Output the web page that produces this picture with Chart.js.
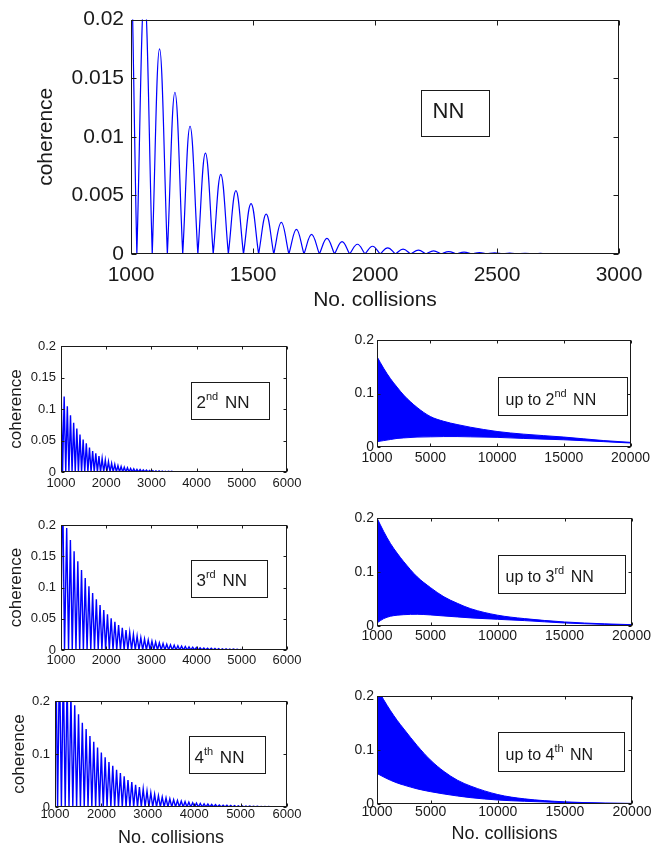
<!DOCTYPE html>
<html>
<head>
<meta charset="utf-8">
<script src="https://cdn.jsdelivr.net/npm/chart.js@4/dist/chart.umd.min.js"></script>
<style>
  body { margin: 0; background: #fff; }
  #fig { position: relative; width: 653px; height: 850px; }
  canvas { position: absolute; }
</style>
</head>
<body>
<div id="fig">
  <canvas id="nn" width="653" height="315" style="left:0;top:0"></canvas>
  <canvas id="l2" width="330" height="185" style="left:0;top:315px"></canvas>
  <canvas id="l3" width="330" height="175" style="left:0;top:500px"></canvas>
  <canvas id="l4" width="330" height="175" style="left:0;top:675px"></canvas>
  <canvas id="r2" width="323" height="185" style="left:330px;top:315px"></canvas>
  <canvas id="r3" width="323" height="175" style="left:330px;top:500px"></canvas>
  <canvas id="r4" width="323" height="175" style="left:330px;top:675px"></canvas>
</div>
<script>
// ---- data ----
// NN: zeros and hump maxima of |coherence|
const nnTroughs = [962, 1024, 1087, 1149, 1212, 1274, 1337, 1399, 1461, 1523, 1585, 1647, 1709, 1772, 1834, 1896, 1959, 2021, 2084, 2146, 2209, 2271, 2334, 2396, 2459, 2521, 2584, 2646, 2709, 2771, 2834, 2896, 2959, 3021];
const nnPeakX = [993, 1055, 1117, 1180, 1242, 1305, 1368, 1430, 1492, 1554, 1616, 1678, 1740, 1803, 1865, 1928, 1990, 2052, 2115, 2178, 2240, 2302, 2365, 2428, 2490, 2552, 2615, 2678, 2740, 2802, 2865, 2928, 2990];
const nnPeakY = [0.028, 0.0222, 0.0175, 0.0138, 0.0109, 0.0086, 0.0068, 0.0054, 0.0043, 0.0034, 0.0027, 0.0021, 0.00167, 0.00133, 0.00105, 0.00083, 0.00066, 0.00052, 0.00041, 0.00033, 0.00026, 0.0002, 0.00016, 0.00013, 0.0001, 0.00008, 0.00006, 0.00005, 0.00004, 0.00003, 0.00002, 0.00002, 0.00001];

// 2nd NN
const nn2Troughs = [965, 1035, 1105, 1175, 1245, 1315, 1385, 1455, 1525, 1595, 1665, 1735, 1805, 1875, 1945, 2015, 2085, 2155, 2225, 2295, 2365, 2435, 2505, 2575, 2645, 2715, 2785, 2855, 2925, 2995, 3065, 3135, 3205, 3275, 3345, 3415, 3485];
const nn2PeakX = [1000, 1070, 1140, 1210, 1280, 1350, 1420, 1490, 1560, 1630, 1700, 1770, 1840, 1910, 1980, 2050, 2120, 2190, 2260, 2330, 2400, 2470, 2540, 2610, 2680, 2750, 2820, 2890, 2960, 3030, 3100, 3170, 3240, 3310, 3380, 3450];
const nn2PeakY = [0.139, 0.120, 0.1045, 0.090, 0.078, 0.069, 0.0596, 0.0517, 0.0454, 0.039, 0.0332, 0.0296, 0.0253, 0.0216, 0.019, 0.0164, 0.0137, 0.012, 0.010, 0.0087, 0.0076, 0.0066, 0.0057, 0.005, 0.0043, 0.0038, 0.0033, 0.0029, 0.0025, 0.0022, 0.0019, 0.0017, 0.0015, 0.0013, 0.0011, 0.001];

// 3rd NN
const nn3Troughs = [1000, 1078, 1167, 1249, 1331, 1413, 1495, 1577, 1659, 1741, 1823, 1905, 1987, 2069, 2151, 2233, 2315, 2397, 2479, 2561, 2643, 2725, 2807, 2889, 2971, 3053, 3135, 3217, 3299, 3381, 3463, 3545, 3627, 3709, 3791, 3873, 3955, 4037, 4119, 4201, 4283, 4365, 4447, 4529, 4611, 4693, 4775, 4857, 4939, 5021];
const nn3PeakX = [1030, 1126, 1208, 1290, 1372, 1454, 1536, 1618, 1700, 1782, 1864, 1946, 2028, 2110, 2192, 2274, 2356, 2438, 2520, 2602, 2684, 2766, 2848, 2930, 3012, 3094, 3176, 3258, 3340, 3422, 3504, 3586, 3668, 3750, 3832, 3914, 3996, 4078, 4160, 4242, 4324, 4406, 4488, 4570, 4652, 4734, 4816, 4898, 4980];
const nn3PeakY = [0.30, 0.195, 0.176, 0.158, 0.142, 0.128, 0.115, 0.102, 0.091, 0.081, 0.072, 0.064, 0.057, 0.0507, 0.0453, 0.040, 0.0357, 0.032, 0.028, 0.025, 0.0224, 0.0197, 0.0176, 0.0158, 0.0142, 0.0128, 0.0115, 0.0104, 0.0093, 0.0084, 0.0076, 0.0068, 0.0061, 0.0055, 0.005, 0.0045, 0.004, 0.0036, 0.0033, 0.003, 0.0027, 0.0024, 0.0022, 0.002, 0.0018, 0.0016, 0.0014, 0.0012, 0.001];

// 4th NN
const nn4Troughs = [974, 1056, 1138, 1220, 1302, 1384, 1466, 1548, 1630, 1712, 1794, 1876, 1958, 2040, 2122, 2204, 2286, 2368, 2450, 2532, 2614, 2696, 2778, 2860, 2942, 3024, 3106, 3188, 3270, 3352, 3434, 3516, 3598, 3680, 3762, 3844, 3926, 4008, 4090, 4172, 4254, 4336, 4418, 4500, 4582, 4664, 4746, 4828, 4910, 4992, 5074, 5156, 5238, 5320, 5402, 5484, 5566, 5648];
const nn4PeakX = [1015, 1097, 1179, 1261, 1343, 1425, 1507, 1589, 1671, 1753, 1835, 1917, 1999, 2081, 2163, 2245, 2327, 2409, 2491, 2573, 2655, 2737, 2819, 2901, 2983, 3065, 3147, 3229, 3311, 3393, 3475, 3557, 3639, 3721, 3803, 3885, 3967, 4049, 4131, 4213, 4295, 4377, 4459, 4541, 4623, 4705, 4787, 4869, 4951, 5033, 5115, 5197, 5279, 5361, 5443, 5525, 5607];
const nn4PeakY = [0.33, 0.29, 0.263, 0.237, 0.213, 0.192, 0.175, 0.159, 0.147, 0.134, 0.123, 0.112, 0.103, 0.094, 0.085, 0.078, 0.070, 0.064, 0.058, 0.051, 0.047, 0.042, 0.0376, 0.034, 0.030, 0.027, 0.024, 0.0213, 0.0188, 0.017, 0.0153, 0.0138, 0.0124, 0.0112, 0.0101, 0.0091, 0.0082, 0.0074, 0.0066, 0.006, 0.0054, 0.0048, 0.0044, 0.0039, 0.0035, 0.0032, 0.0029, 0.0026, 0.0023, 0.0021, 0.0019, 0.0017, 0.0015, 0.0014, 0.0012, 0.0011, 0.001];

// "up to" panels: upper / lower envelope of the dense oscillation
const upX = [1000, 1500, 2000, 2500, 3000, 4000, 5000, 6000, 7000, 8000, 10000, 12000, 15000, 18000, 20000];
const up2Upper = [0.169, 0.147, 0.128, 0.112, 0.097, 0.074, 0.057, 0.048, 0.042, 0.037, 0.029, 0.024, 0.0186, 0.012, 0.0087];
const up2Lower = [0.010, 0.012, 0.014, 0.016, 0.017, 0.0185, 0.019, 0.0195, 0.0195, 0.019, 0.018, 0.016, 0.0135, 0.010, 0.0075];
const up3Upper = [0.200, 0.175, 0.153, 0.135, 0.119, 0.091, 0.071, 0.054, 0.042, 0.032, 0.020, 0.0137, 0.0075, 0.004, 0.0025];
const up3Lower = [0.0056, 0.0137, 0.018, 0.020, 0.021, 0.0217, 0.0205, 0.0186, 0.0168, 0.015, 0.0124, 0.010, 0.0056, 0.003, 0.002];
const up4Upper = [0.215, 0.193, 0.173, 0.155, 0.139, 0.108, 0.081, 0.060, 0.044, 0.033, 0.0175, 0.0095, 0.004, 0.0017, 0.001];
const up4Lower = [0.0566, 0.050, 0.044, 0.039, 0.035, 0.028, 0.0228, 0.0185, 0.0148, 0.0117, 0.0074, 0.005, 0.0025, 0.0013, 0.001];

// ticks
const nnXTicks = [1000, 1500, 2000, 2500, 3000];
const nnYTicks = [0, 0.005, 0.01, 0.015, 0.02];
const nnYLabels = ['0', '0.005', '0.01', '0.015', '0.02'];
const leftXTicks = [1000, 2000, 3000, 4000, 5000, 6000];
const leftYTicks = [0, 0.05, 0.1, 0.15, 0.2];
const leftYLabels = ['0', '0.05', '0.1', '0.15', '0.2'];
const coarseYTicks = [0, 0.1, 0.2];
const coarseYLabels = ['0', '0.1', '0.2'];
const rightXTicks = [1000, 5000, 10000, 15000, 20000];

const FONT = '"Liberation Sans", Arial, Helvetica, sans-serif';
const BLUE = '#0000ff';
const INK = '#1a1a1a';
Chart.defaults.font.family = FONT;
Chart.defaults.color = INK;

// separate humps so every zero is a cusp, like |sin|
function humps(troughs, px, py) {
  const pts = [];
  for (let i = 0; i < px.length; i++) {
    pts.push({x: troughs[i], y: 0}, {x: px[i], y: py[i]}, {x: troughs[i + 1], y: 0}, {x: troughs[i + 1], y: null});
  }
  return pts;
}
// narrow spikes, plain polyline
function spikes(troughs, px, py, xEnd) {
  const pts = [];
  for (let i = 0; i < px.length; i++) {
    pts.push({x: troughs[i], y: 0}, {x: px[i], y: py[i]});
  }
  pts.push({x: troughs[px.length], y: 0}, {x: xEnd, y: 0});
  return pts;
}
function envelope(xs, ys) {
  return xs.map((x, i) => ({x: x, y: ys[i]}));
}

// box, inward ticks on all sides, and the text label
const framePlugin = {
  id: 'frame',
  afterDraw(chart, args, opts) {
    const {ctx, chartArea: a} = chart;
    const xs = chart.scales.x, ys = chart.scales.y;
    const L = Math.round(a.left) + 0.5, R = Math.round(a.right) - 0.5;
    const T = Math.round(a.top) + 0.5, B = Math.round(a.bottom) - 0.5;
    ctx.save();
    ctx.strokeStyle = INK;
    ctx.lineWidth = 1;
    ctx.strokeRect(L, T, R - L, B - T);
    ctx.beginPath();
    xs.ticks.forEach(t => {
      const p = Math.round(xs.getPixelForValue(t.value)) + 0.5;
      ctx.moveTo(p, B); ctx.lineTo(p, B - opts.tick);
      ctx.moveTo(p, T); ctx.lineTo(p, T + opts.tick);
    });
    ys.ticks.forEach(t => {
      const p = Math.round(ys.getPixelForValue(t.value)) + 0.5;
      ctx.moveTo(L, p); ctx.lineTo(L + opts.tick, p);
      ctx.moveTo(R, p); ctx.lineTo(R - opts.tick, p);
    });
    ctx.stroke();

    const b = opts.box;
    const x0 = Math.round(xs.getPixelForValue(b.x0)) + 0.5;
    const x1 = Math.round(xs.getPixelForValue(b.x1)) + 0.5;
    const y0 = Math.round(ys.getPixelForValue(b.yTop)) + 0.5;
    const y1 = Math.round(ys.getPixelForValue(b.yBottom)) + 0.5;
    ctx.fillStyle = '#fff';
    ctx.fillRect(x0, y0, x1 - x0, y1 - y0);
    ctx.strokeRect(x0, y0, x1 - x0, y1 - y0);
    ctx.fillStyle = INK;
    ctx.textAlign = 'left';
    ctx.textBaseline = 'alphabetic';
    let cx = x0 + b.padX;
    const base = y0 + b.baseline;
    b.parts.forEach(p => {
      ctx.font = (p.sup ? b.supSize : b.size) + 'px ' + FONT;
      ctx.fillText(p.t, cx, p.sup ? base - b.supRise : base);
      cx += ctx.measureText(p.t).width + (p.sup ? b.supGap : 0);
    });
    ctx.restore();
  }
};

function panel(id, o) {
  const xTitle = o.xTitle
    ? {display: true, text: 'No. collisions', font: {size: o.xTitleSize}, padding: {top: 0, bottom: o.xTitlePad}}
    : {display: false};
  const yTitle = o.yTitle
    ? {display: true, text: 'coherence', font: {size: o.yTitleSize}, padding: {top: o.yTitlePad, bottom: 0}}
    : {display: false};
  return new Chart(document.getElementById(id), {
    type: 'line',
    data: {datasets: o.datasets},
    options: {
      responsive: false,
      animation: false,
      devicePixelRatio: 1,
      layout: {padding: {left: 0, top: o.padTop, right: o.padRight, bottom: 0}},
      elements: {point: {radius: 0}, line: {borderWidth: 1}},
      plugins: {
        legend: {display: false},
        tooltip: {enabled: false},
        frame: {tick: o.tick, box: o.box}
      },
      scales: {
        x: {
          type: 'linear', min: o.xMin, max: o.xMax,
          grid: {display: false, drawTicks: false},
          border: {display: false},
          afterBuildTicks: s => { s.ticks = o.xTicks.map(v => ({value: v})); },
          afterFit: s => { s.height = o.xAxisH; },
          ticks: {font: {size: o.tickSize}, padding: o.xTickPad, maxRotation: 0, autoSkip: false,
                  callback: (v, i) => String(o.xTicks[i])},
          title: xTitle
        },
        y: {
          type: 'linear', min: 0, max: o.yMax,
          grid: {display: false, drawTicks: false},
          border: {display: false},
          afterBuildTicks: s => { s.ticks = o.yTicks.map(v => ({value: v})); },
          afterFit: s => { s.width = o.yAxisW; },
          ticks: {font: {size: o.tickSize}, padding: o.yTickPad, autoSkip: false,
                  callback: (v, i) => o.yLabels[i]},
          title: yTitle
        }
      }
    },
    plugins: [framePlugin]
  });
}

const lineDs = (pts, tension, w) => ({data: pts, borderColor: BLUE, borderWidth: w, tension: tension, clip: 0, fill: false, spanGaps: false});
const bandDs = (lower, upper) => [
  {data: envelope(upX, lower), borderColor: BLUE, borderWidth: 1, cubicInterpolationMode: 'monotone', clip: 0, fill: false},
  {data: envelope(upX, upper), borderColor: BLUE, borderWidth: 1, cubicInterpolationMode: 'monotone', clip: 0,
   fill: '-1', backgroundColor: BLUE}
];
const sup = (pre, s, post) => [{t: pre}, {t: s, sup: true}, {t: post}];

const leftBase = {xMin: 1000, xMax: 6000, xTicks: leftXTicks, yMax: 0.2, tickSize: 13, tick: 3,
  padRight: 43, yTickPad: 5, yTitle: true, yTitleSize: 17, yTitlePad: 6};
const rightBase = {xMin: 1000, xMax: 20000, xTicks: rightXTicks, yMax: 0.2, yTicks: coarseYTicks, yLabels: coarseYLabels,
  tickSize: 14, tick: 3, padRight: 21, yAxisW: 47, yTickPad: 3, yTitle: false};
const leftBox = {size: 17, supSize: 11, supRise: 8, supGap: 2, padX: 5, baseline: 25};
const rightBox = {size: 16, supSize: 11, supRise: 8, supGap: 2, padX: 7, baseline: 27};

panel('nn', {
  datasets: [lineDs(humps(nnTroughs, nnPeakX, nnPeakY), 0.4, 1.2)],
  xMin: 1000, xMax: 3000, xTicks: nnXTicks, yMax: 0.02, yTicks: nnYTicks, yLabels: nnYLabels,
  tickSize: 21, tick: 5, padTop: 14, padRight: 34, yAxisW: 131, xAxisH: 61,
  xTickPad: 9, yTickPad: 7,
  xTitle: true, xTitleSize: 21, xTitlePad: 2,
  yTitle: true, yTitleSize: 21, yTitlePad: 34,
  box: {x0: 2189, x1: 2467, yTop: 0.014, yBottom: 0.0101, size: 22, padX: 11, baseline: 27, parts: [{t: 'NN'}]}
});

panel('l2', Object.assign({}, leftBase, {
  datasets: [lineDs(spikes(nn2Troughs, nn2PeakX, nn2PeakY, 6000), 0, 1.4)],
  yTicks: leftYTicks, yLabels: leftYLabels, padTop: 31, yAxisW: 61, xAxisH: 28, xTickPad: 4,
  box: Object.assign({x0: 3876, x1: 5602, yTop: 0.1429, yBottom: 0.0841, parts: sup('2', 'nd', ' NN')}, leftBox)
}));
panel('l3', Object.assign({}, leftBase, {
  datasets: [lineDs(spikes(nn3Troughs, nn3PeakX, nn3PeakY, 6000), 0, 1.4)],
  yTicks: leftYTicks, yLabels: leftYLabels, padTop: 25, yAxisW: 61, xAxisH: 25, xTickPad: 3,
  box: Object.assign({x0: 3876, x1: 5558, yTop: 0.144, yBottom: 0.0848, parts: sup('3', 'rd', ' NN')}, leftBox)
}));
panel('l4', Object.assign({}, leftBase, {
  datasets: [lineDs(spikes(nn4Troughs, nn4PeakX, nn4PeakY, 6000), 0, 1.4)],
  yTicks: coarseYTicks, yLabels: coarseYLabels, padTop: 26, yAxisW: 55, xAxisH: 43, xTickPad: 0, yTitlePad: 9,
  xTitle: true, xTitleSize: 18, xTitlePad: 1,
  box: Object.assign({x0: 3885, x1: 5525, yTop: 0.134, yBottom: 0.0642, parts: sup('4', 'th', ' NN')}, leftBox, {baseline: 26})
}));

panel('r2', Object.assign({}, rightBase, {
  datasets: bandDs(up2Lower, up2Upper),
  padTop: 25, xAxisH: 53, xTickPad: 3,
  box: Object.assign({x0: 10090, x1: 19702, yTop: 0.1308, yBottom: 0.0598, parts: sup('up to 2', 'nd', ' NN')}, rightBox)
}));
panel('r3', Object.assign({}, rightBase, {
  datasets: bandDs(up3Lower, up3Upper),
  padTop: 18, xAxisH: 49, xTickPad: 2,
  box: Object.assign({x0: 10016, x1: 19478, yTop: 0.1315, yBottom: 0.0611, parts: sup('up to 3', 'rd', ' NN')}, rightBox, {baseline: 26})
}));
panel('r4', Object.assign({}, rightBase, {
  datasets: bandDs(up4Lower, up4Upper),
  padTop: 21, xAxisH: 46, xTickPad: 0,
  xTitle: true, xTitleSize: 18, xTitlePad: 5,
  box: Object.assign({x0: 10016, x1: 19404, yTop: 0.1333, yBottom: 0.0611, parts: sup('up to 4', 'th', ' NN')}, rightBox)
}));
</script>
</body>
</html>
